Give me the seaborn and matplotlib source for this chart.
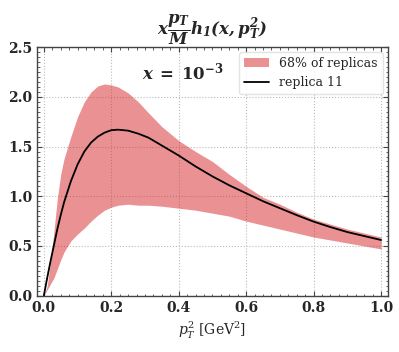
import numpy as np
import pandas as pd
import matplotlib
matplotlib.use("Agg")
import matplotlib.pyplot as plt
from matplotlib.ticker import MultipleLocator
import seaborn as sns

# pT^2 grid in GeV^2
pt2 = [0.0, 0.01, 0.02, 0.03, 0.04, 0.05, 0.06, 0.08, 0.10, 0.12, 0.14, 0.16,
       0.18, 0.20, 0.22, 0.25, 0.28, 0.31, 0.35, 0.40, 0.45, 0.50, 0.55, 0.60,
       0.65, 0.70, 0.75, 0.80, 0.85, 0.90, 0.95, 1.00]

# replica 11 (central curve)
replica_11 = [0.0, 0.18, 0.35, 0.51, 0.67, 0.81, 0.94, 1.15, 1.32, 1.45, 1.54, 1.60,
              1.64, 1.665, 1.67, 1.66, 1.63, 1.59, 1.51, 1.41, 1.30, 1.20, 1.11, 1.03,
              0.95, 0.88, 0.81, 0.745, 0.69, 0.64, 0.60, 0.56]

# 68% band of replicas
band_upper = [0.0, 0.10, 0.35, 0.65, 0.98, 1.22, 1.38, 1.60, 1.80, 1.95, 2.05, 2.11,
              2.13, 2.12, 2.10, 2.04, 1.95, 1.84, 1.70, 1.56, 1.45, 1.35, 1.22, 1.10,
              0.99, 0.92, 0.84, 0.77, 0.72, 0.67, 0.63, 0.59]
band_lower = [0.0, 0.06, 0.12, 0.18, 0.27, 0.36, 0.44, 0.55, 0.62, 0.68, 0.75, 0.81,
              0.86, 0.89, 0.91, 0.92, 0.91, 0.91, 0.90, 0.88, 0.86, 0.83, 0.80, 0.75,
              0.71, 0.67, 0.63, 0.59, 0.56, 0.53, 0.50, 0.47]

df = pd.DataFrame({"pt2": pt2, "rep": replica_11, "up": band_upper, "lo": band_lower})

sns.set_style("ticks")
plt.rcParams["font.family"] = ["DejaVu Serif"]
plt.rcParams["mathtext.fontset"] = "dejavuserif"

fig, ax = plt.subplots(figsize=(3.99, 3.52), dpi=100)
fig.subplots_adjust(left=0.093, right=0.972, top=0.866, bottom=0.16)

ax.fill_between(df["pt2"], df["lo"], df["up"], color="tab:red", alpha=0.5,
                linewidth=0, label="68% of replicas")
sns.lineplot(data=df, x="pt2", y="rep", color="black", linewidth=1.3,
             label="replica 11", ax=ax)

ax.set_xlim(-0.02, 1.02)
ax.set_ylim(0, 2.5)
ax.xaxis.set_major_locator(MultipleLocator(0.2))
ax.xaxis.set_minor_locator(MultipleLocator(0.025))
ax.yaxis.set_major_locator(MultipleLocator(0.5))
ax.yaxis.set_minor_locator(MultipleLocator(0.05))
ax.tick_params(which="both", direction="in", top=True, right=True, color="#444444")
ax.tick_params(which="major", length=3.5, width=0.8)
ax.tick_params(which="minor", length=1.8, width=0.6)
for lab in ax.get_xticklabels() + ax.get_yticklabels():
    lab.set_fontweight("bold")
    lab.set_fontsize(10)
ax.grid(True, which="major", linestyle=":", color="#bbbbbb", linewidth=0.8)
for s in ax.spines.values():
    s.set_color("#444444")
    s.set_linewidth(1.0)

ax.set_xlabel(r"$p_T^2$ [GeV$^2$]", fontsize=10)
ax.set_ylabel("")
ax.set_title(r"$\mathbfit{x\dfrac{p_T}{M}h_1(x,p_T^2)}$", fontsize=12, pad=3)
ax.text(0.3, 0.87, r"$\mathbfit{x}\;\mathbf{=}\;\mathbf{10^{-3}}$",
        transform=ax.transAxes, fontsize=12)

leg = ax.legend(loc="upper right", fontsize=9, frameon=True, fancybox=True,
                borderaxespad=0.4, handlelength=2.0)
leg.get_frame().set_edgecolor("#dddddd")

fig.savefig("out.png", dpi=100)
